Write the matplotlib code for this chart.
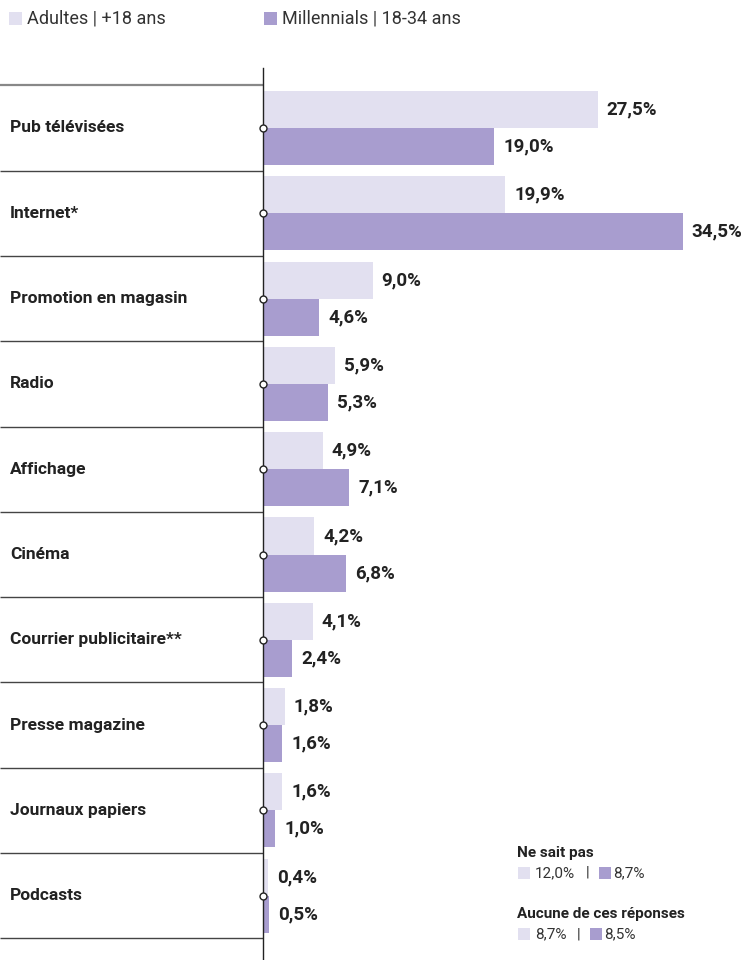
import matplotlib
matplotlib.use("Agg")
import matplotlib.pyplot as plt
from matplotlib.patches import Rectangle

categories = [
    "Pub télévisées", "Internet*", "Promotion en magasin", "Radio", "Affichage",
    "Cinéma", "Courrier publicitaire**", "Presse magazine", "Journaux papiers", "Podcasts",
]
adultes = [27.5, 19.9, 9.0, 5.9, 4.9, 4.2, 4.1, 1.8, 1.6, 0.4]
millennials = [19.0, 34.5, 4.6, 5.3, 7.1, 6.8, 2.4, 1.6, 1.0, 0.5]
series_names = ["Adultes | +18 ans", "Millennials | 18-34 ans"]
extras = [("Ne sait pas", 12.0, 8.7), ("Aucune de ces réponses", 8.7, 8.5)]

LIGHT = "#e2e0f0"
DARK = "#a89dcf"
TXT = "#222222"

plt.rcParams["font.family"] = ["Roboto", "DejaVu Sans"]

W, H = 751, 960
fig = plt.figure(figsize=(W / 100, H / 100), dpi=100)
ax = fig.add_axes([0, 0, 1, 1])

px = 12.17      # pixels per percent
x0 = 263        # axis position in pixels
row = 85.3      # row spacing in pixels
y0 = 128        # first row center in pixels
ax.set_xlim(-x0 / px, (W - x0) / px)
ax.set_ylim((H - y0) / row, -y0 / row)
ax.axis("off")

bh = 0.434
fmt = lambda v: f"{v:.1f}%".replace(".", ",")
for i, (a, m) in enumerate(zip(adultes, millennials)):
    ax.barh(i - bh / 2, a, height=bh, color=LIGHT, linewidth=0)
    ax.barh(i + bh / 2, m, height=bh, color=DARK, linewidth=0)
    ax.text(a + 9 / px, i - bh / 2, fmt(a), va="center", ha="left",
            fontsize=13.5, fontweight="bold", color=TXT)
    ax.text(m + 9 / px, i + bh / 2, fmt(m), va="center", ha="left",
            fontsize=13.5, fontweight="bold", color=TXT)
    ax.text(-253 / px, i, categories[i], va="center", ha="left",
            fontsize=12.5, fontweight="bold", color=TXT)

# separators between rows
for k in range(len(categories) + 1):
    y = k - 0.5
    ax.plot([-x0 / px, 0], [y, y], color="#888888" if k == 0 else "#444444",
            lw=1.6 if k == 0 else 1.0, solid_capstyle="butt")

# vertical axis line and row markers
ax.plot([0, 0], [-60 / row, (H - y0) / row], color="#222222", lw=1.0)
ax.plot([0] * len(categories), range(len(categories)), "o", ms=5,
        mfc="white", mec="#222222", mew=1.0, zorder=5)

# top legend
def fig_square(xp, yp, color, size=13):
    fig.patches.append(Rectangle((xp / W, 1 - (yp + size) / H), size / W, size / H,
                                 transform=fig.transFigure, color=color, lw=0))

fig_square(9, 12, LIGHT)
fig.text(27 / W, 1 - 19 / H, series_names[0], va="center", ha="left", fontsize=13, color="#333333")
fig_square(264, 12, DARK)
fig.text(282 / W, 1 - 19 / H, series_names[1], va="center", ha="left", fontsize=13, color="#333333")

# extra answers (bottom right)
for j, (label, a, m) in enumerate(extras):
    yt = 853 + j * 61
    fig.text(517 / W, 1 - yt / H, label, va="center", ha="left", fontsize=11,
             fontweight="bold", color=TXT)
    yr = yt + 20
    fig_square(518, yr - 6, LIGHT, 12)
    fig.text(535 / W, 1 - yr / H, fmt(a), va="center", ha="left", fontsize=11, color="#333333")
    xp = 588 if a >= 10 else 579
    fig.text(xp / W, 1 - yr / H, "|", va="center", ha="center", fontsize=11, color="#333333")
    xs = xp + 11
    fig_square(xs, yr - 6, DARK, 12)
    fig.text((xs + 14) / W, 1 - yr / H, fmt(m), va="center", ha="left", fontsize=11, color="#333333")

fig.savefig("out.png", dpi=100)
